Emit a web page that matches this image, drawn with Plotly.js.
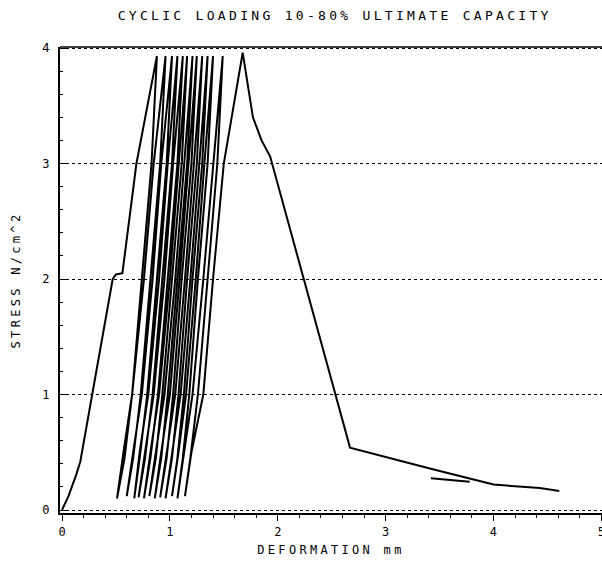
<!DOCTYPE html>
<html>
<head>
<meta charset="utf-8">
<script src="https://cdn.plot.ly/plotly-3.0.1.min.js"></script>
<style>
html,body{margin:0;padding:0;background:#fff;}
#chart{width:602px;height:565px;}
</style>
</head>
<body>
<div id="chart"></div>
<script>
// Deformation (mm) and stress (N/cm^2), in drawing order
const deformation = [
  0.00, 0.06, 0.13, 0.17, 0.28, 0.47, 0.50, 0.56, 0.69, 0.88,
  0.83, 0.74, 0.65, 0.58, 0.51,
  0.57, 0.65, 0.76, 0.85, 0.96,
  0.91, 0.82, 0.73, 0.66, 0.60,
  0.66, 0.74, 0.84, 0.92, 1.02,
  0.97, 0.88, 0.79, 0.72, 0.67,
  0.72, 0.80, 0.90, 0.98, 1.07,
  1.02, 0.93, 0.84, 0.77, 0.71,
  0.77, 0.85, 0.95, 1.03, 1.12,
  1.07, 0.98, 0.89, 0.82, 0.76,
  0.82, 0.90, 1.00, 1.08, 1.16,
  1.11, 1.02, 0.93, 0.87, 0.81,
  0.87, 0.95, 1.05, 1.13, 1.21,
  1.16, 1.07, 0.98, 0.92, 0.86,
  0.92, 1.00, 1.09, 1.17, 1.25,
  1.20, 1.11, 1.03, 0.97, 0.91,
  0.97, 1.05, 1.14, 1.22, 1.30,
  1.25, 1.16, 1.08, 1.02, 0.96,
  1.02, 1.10, 1.19, 1.27, 1.35,
  1.30, 1.21, 1.13, 1.07, 1.02,
  1.08, 1.15, 1.24, 1.32, 1.40,
  1.35, 1.26, 1.18, 1.12, 1.07,
  1.13, 1.21, 1.31, 1.40, 1.49,
  1.44, 1.35, 1.26, 1.19, 1.14,
  1.20, 1.31, 1.40, 1.50, 1.675,
  1.77, 1.85, 1.93, 2.67, 3.41, 4.00, 4.43, 4.61
];
const stress = [
  0.00, 0.12, 0.30, 0.42, 1.00, 2.00, 2.04, 2.05, 3.00, 3.93,
  3.00, 2.00, 1.00, 0.45, 0.10,
  0.50, 1.00, 2.00, 3.00, 3.93,
  3.00, 2.00, 1.00, 0.45, 0.12,
  0.50, 1.00, 2.00, 3.00, 3.93,
  3.00, 2.00, 1.00, 0.45, 0.10,
  0.50, 1.00, 2.00, 3.00, 3.93,
  3.00, 2.00, 1.00, 0.45, 0.11,
  0.50, 1.00, 2.00, 3.00, 3.93,
  3.00, 2.00, 1.00, 0.45, 0.10,
  0.50, 1.00, 2.00, 3.00, 3.93,
  3.00, 2.00, 1.00, 0.45, 0.12,
  0.50, 1.00, 2.00, 3.00, 3.93,
  3.00, 2.00, 1.00, 0.45, 0.10,
  0.50, 1.00, 2.00, 3.00, 3.93,
  3.00, 2.00, 1.00, 0.45, 0.11,
  0.50, 1.00, 2.00, 3.00, 3.93,
  3.00, 2.00, 1.00, 0.45, 0.10,
  0.50, 1.00, 2.00, 3.00, 3.93,
  3.00, 2.00, 1.00, 0.45, 0.12,
  0.50, 1.00, 2.00, 3.00, 3.93,
  3.00, 2.00, 1.00, 0.45, 0.10,
  0.50, 1.00, 2.00, 3.00, 3.93,
  3.00, 2.00, 1.00, 0.45, 0.12,
  0.50, 1.00, 2.00, 3.00, 3.96,
  3.40, 3.20, 3.06, 0.54, 0.36, 0.22, 0.19, 0.165
];
// short extra segment near the tail
const tailDeformation = [3.42, 3.60, 3.78];
const tailStress = [0.275, 0.26, 0.245];

const xTicks = [0, 1, 2, 3, 4, 5];
const xTickText = ['0', '1', '2', '3', '4', '5'];
const yTicks = [0, 1, 2, 3, 4];
const yTickText = ['0', '1', '2', '3', '4'];

const FONT = 'DejaVu Sans Mono, monospace';

const traces = [
  {x: deformation, y: stress, type: 'scatter', mode: 'lines',
   line: {color: '#000', width: 2}, hoverinfo: 'skip', showlegend: false},
  {x: tailDeformation, y: tailStress, type: 'scatter', mode: 'lines',
   line: {color: '#000', width: 2}, hoverinfo: 'skip', showlegend: false}
];

const layout = {
  width: 602, height: 565,
  margin: {l: 60, r: 0, t: 47, b: 52},
  paper_bgcolor: '#fff', plot_bgcolor: '#fff',
  font: {family: FONT, size: 12, color: '#000'},
  showlegend: false,
  title: {text: 'CYCLIC LOADING 10-80% ULTIMATE CAPACITY',
          x: 0.556, xanchor: 'center', y: 0.972, yanchor: 'middle',
          font: {family: FONT, size: 13, color: '#000'}},
  xaxis: {
    range: [-0.0185, 5.006],
    tickvals: xTicks, ticktext: xTickText,
    ticks: 'outside', ticklen: 6, tickwidth: 1, tickcolor: '#000',
    minor: {dtick: 0.2, tick0: 0, ticks: 'outside', ticklen: 3, tickcolor: '#000', showgrid: false},
    showgrid: false, zeroline: false,
    showline: true, linecolor: '#000', linewidth: 2,
    ticklabelstandoff: 1,
    ticklabeloverflow: 'allow',
    tickfont: {family: FONT, size: 12, color: '#000'},
    title: {text: 'DEFORMATION mm', standoff: 7, font: {family: FONT, size: 12, color: '#000'}}
  },
  yaxis: {
    range: [-0.026, 4.009],
    tickvals: yTicks, ticktext: yTickText,
    ticks: 'inside', ticklen: 6, tickwidth: 1, tickcolor: '#000',
    minor: {dtick: 0.2, tick0: 0, ticks: 'inside', ticklen: 3, tickcolor: '#000', showgrid: false},
    showgrid: true, gridcolor: '#000', gridwidth: 1, griddash: 'dot',
    zeroline: false,
    showline: true, linecolor: '#000', linewidth: 2,
    ticklabelstandoff: 6,
    tickfont: {family: FONT, size: 12, color: '#000'},
    title: {text: 'STRESS N/cm^2', standoff: 19, font: {family: FONT, size: 12, color: '#000'}}
  },
  shapes: [
    {type: 'line', xref: 'paper', yref: 'paper', x0: 0, x1: 1, y0: 1, y1: 1,
     line: {color: '#000', width: 1.5}}
  ]
};

Plotly.newPlot('chart', traces, layout, {staticPlot: true, displayModeBar: false}).then(function () {
  document.querySelectorAll('.gtitle, .xtitle, .ytitle').forEach(function (t) {
    t.style.letterSpacing = '3.3px';
  });
});
</script>
</body>
</html>
